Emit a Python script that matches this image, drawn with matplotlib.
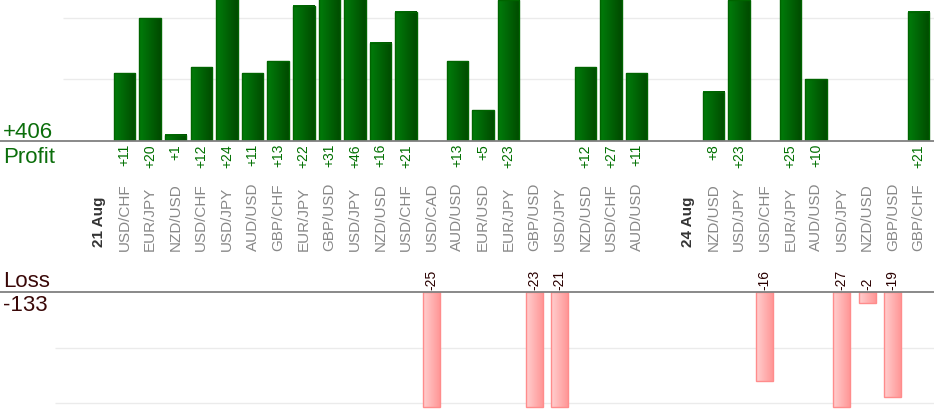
import numpy as np
import matplotlib
matplotlib.use('Agg')
import matplotlib.pyplot as plt
from matplotlib.colors import LinearSegmentedColormap
from matplotlib.transforms import blended_transform_factory

plt.rcParams['font.family'] = ['Liberation Sans', 'DejaVu Sans']

# Slot labels along the x axis ('' = empty slot, dates shown bold)
pairs = ['21 Aug',
         'USD/CHF', 'EUR/JPY', 'NZD/USD', 'USD/CHF', 'USD/JPY', 'AUD/USD',
         'GBP/CHF', 'EUR/JPY', 'GBP/USD', 'USD/JPY', 'NZD/USD', 'USD/CHF',
         'USD/CAD', 'AUD/USD', 'EUR/USD', 'EUR/JPY', 'GBP/USD', 'USD/JPY',
         'NZD/USD', 'USD/CHF', 'AUD/USD', '',
         '24 Aug',
         'NZD/USD', 'USD/JPY', 'USD/CHF', 'EUR/JPY', 'AUD/USD', 'USD/JPY',
         'NZD/USD', 'GBP/USD', 'GBP/CHF']
date_labels = ['21 Aug', '24 Aug']

# pips per trade (0 = no trade of that kind in the slot)
profit = [0,
          11, 20, 1, 12, 24, 11, 13, 22, 31, 46, 16, 21,
          0, 13, 5, 23, 0, 0, 12, 27, 11, 0,
          0,
          8, 23, 0, 25, 10, 0, 0, 0, 21]
loss = [0,
        0, 0, 0, 0, 0, 0, 0, 0, 0, 0, 0, 0,
        -25, 0, 0, 0, -23, -21, 0, 0, 0, 0,
        0,
        0, 0, -16, 0, 0, -27, -2, -19, 0]

total_profit = sum(profit)
total_loss = sum(loss)

W, H = 934, 420
fig = plt.figure(figsize=(W / 100, H / 100), dpi=100)

def fy(px):
    return 1 - px / H

# slot i centre in pixels: 124.5 + 25.61 * (i - 1)
step = 25.61
x_left = 1 - 124.5 / step
x_right = 1 + (W - 124.5) / step

ax_p = fig.add_axes([0, fy(141), 1, 141 / H])
ax_l = fig.add_axes([0, fy(409), 1, (409 - 292) / H])
ax_p.set_xlim(x_left, x_right)
ax_p.set_ylim(0, 141 / 6.15)
ax_l.set_xlim(x_left, x_right)
ax_l.set_ylim(-117 / 5.55, 0)

green_cmap = LinearSegmentedColormap.from_list('g', ['#007d0a', '#004a00'])
red_cmap = LinearSegmentedColormap.from_list('r', ['#ffcfcf', '#ff9797'])
grad = np.linspace(0, 1, 64).reshape(1, -1)

x = np.arange(len(pairs))


def gradient_bars(ax, xs, vals, width, cmap, edge, floor=None):
    lo, hi = ax.get_ylim()
    vals = np.array(vals, dtype=float)
    mask = vals != 0
    v = vals[mask]
    if floor is not None:
        # long losses stop at the chart floor, edge still drawn
        v = np.maximum(v, floor)
    bars = ax.bar(xs[mask], v, width=width,
                  facecolor='none', edgecolor=edge, linewidth=1.0, zorder=3)
    for b in bars:
        x0, y0 = b.get_x(), b.get_y()
        w, h = b.get_width(), b.get_height()
        ya, yb = sorted((y0, y0 + h))
        ya, yb = max(ya, lo), min(yb, hi)
        ax.imshow(grad, extent=[x0, x0 + w, ya, yb], cmap=cmap,
                  aspect='auto', origin='lower', zorder=2)
    ax.set_ylim(lo, hi)
    return bars


gradient_bars(ax_p, x, profit, 0.84, green_cmap, '#006400')
gradient_bars(ax_l, x, loss, 0.66, red_cmap, '#ff8c8c', floor=-114.7 / 5.55)
ax_p.set_xlim(x_left, x_right)
ax_l.set_xlim(x_left, x_right)

grid_start = x_left + 63 / step
for yv in (10, 20):
    ax_p.hlines(yv, grid_start, x_right, color='#ebebeb', lw=1, zorder=1)
grid_start_l = x_left + 55 / step
for yv in (-10, -20):
    ax_l.hlines(yv, grid_start_l, x_right, color='#ebebeb', lw=1, zorder=1)

for ax in (ax_p, ax_l):
    ax.axis('off')

# baselines across the full width
fig.add_artist(plt.Line2D([0, 1], [fy(141), fy(141)], color='#808080', lw=1.3))
fig.add_artist(plt.Line2D([0, 1], [fy(292), fy(292)], color='#808080', lw=1.3))

tr = blended_transform_factory(ax_p.transData, fig.transFigure)

for i, lab in enumerate(pairs):
    if not lab:
        continue
    if lab in date_labels:
        fig.text(i, fy(247), lab, transform=tr, rotation=90, ha='center',
                 va='bottom', fontsize=11, fontweight='bold', color='#333333')
    else:
        fig.text(i, fy(251), lab, transform=tr, rotation=90, ha='center',
                 va='bottom', fontsize=11, color='#888888')
    if profit[i]:
        fig.text(i, fy(144), f'+{profit[i]}', transform=tr, rotation=90,
                 ha='center', va='top', fontsize=10, color='#007000')
    if loss[i]:
        fig.text(i, fy(290), f'{loss[i]}', transform=tr, rotation=90,
                 ha='center', va='bottom', fontsize=10, color='#2a0000')

fig.text(3 / W, fy(138), f'+{total_profit}', fontsize=16, color='#0b6e0b',
         ha='left', va='baseline')
fig.text(3 / W, fy(163), 'Profit', fontsize=16, color='#0b6e0b',
         ha='left', va='baseline')
fig.text(3 / W, fy(287), 'Loss', fontsize=16, color='#3a0808',
         ha='left', va='baseline')
fig.text(3 / W, fy(311), f'{total_loss}', fontsize=16, color='#3a0808',
         ha='left', va='baseline')

fig.savefig('out.png', dpi=100)
